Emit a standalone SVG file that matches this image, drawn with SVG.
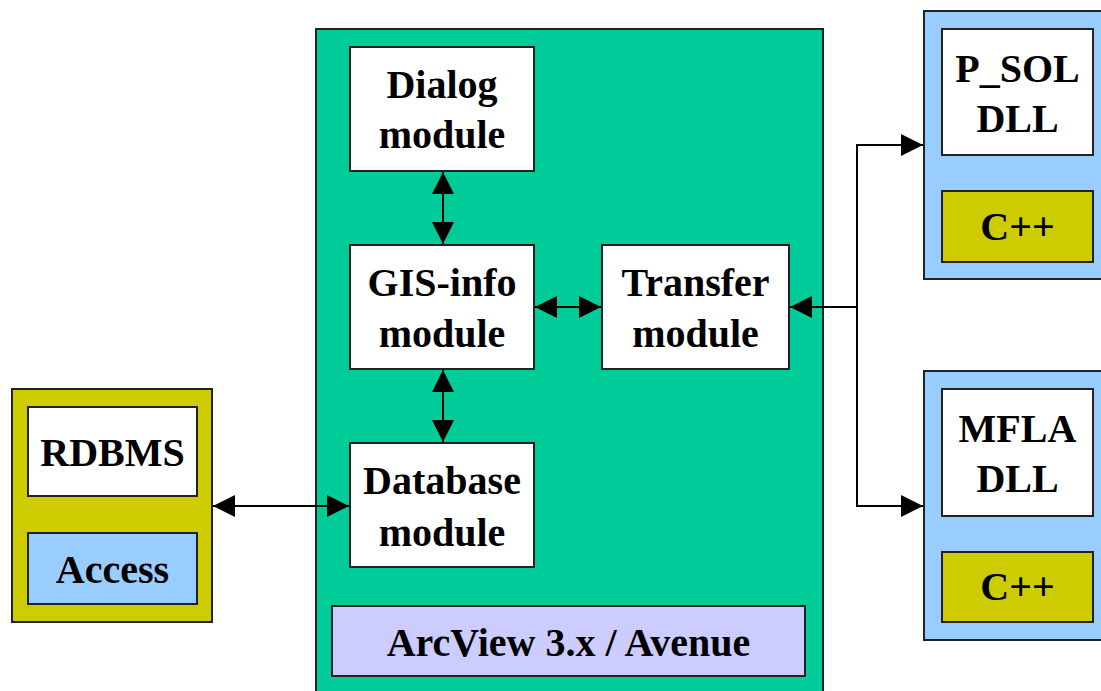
<svg xmlns="http://www.w3.org/2000/svg" width="1101" height="691" viewBox="0 0 1101 691">
<style>
.b{stroke:#222;stroke-width:2}
.w{fill:#fff}
.g{fill:#00CC99}
.y{fill:#CCCC00}
.lb{fill:#99CCFF}
.lv{fill:#CCCCFF}
text{font-family:"Liberation Serif","Times New Roman",serif;font-weight:bold;font-size:40px;fill:#000;text-anchor:middle}
.c{fill:none;stroke:#000;stroke-width:2}
</style>
<defs>
<marker id="ah" markerUnits="userSpaceOnUse" markerWidth="22" markerHeight="22" viewBox="0 0 20 20" refX="20" refY="10" orient="auto-start-reverse">
<path d="M0,0 L20,10 L0,20 Z" fill="#000"/>
</marker>
</defs>
<rect width="1101" height="691" fill="#fff"/>
<g id="arcview-container">
<rect class="b g" x="316" y="29" width="507" height="680"/>
</g>
<g id="left-container">
<rect class="b y" x="12" y="389" width="200" height="233"/>
</g>
<g id="rdbms"><rect class="b w" x="28" y="407" width="169" height="89"/><text x="112.5" y="466">RDBMS</text></g>
<g id="access"><rect class="b lb" x="28" y="533" width="169" height="71"/><text x="112.5" y="583">Access</text></g>
<g id="psol-container"><rect class="b lb" x="924" y="11" width="190" height="268"/></g>
<g id="psol"><rect class="b w" x="942" y="29" width="151" height="126"/><text x="1017.5" y="82">P_SOL</text><text x="1017.5" y="132">DLL</text></g>
<g id="cpp1"><rect class="b y" x="942" y="191" width="151" height="71"/><text x="1017.5" y="240">C++</text></g>
<g id="mfla-container"><rect class="b lb" x="924" y="371" width="190" height="269"/></g>
<g id="mfla"><rect class="b w" x="942" y="389" width="151" height="127"/><text x="1017.5" y="442">MFLA</text><text x="1017.5" y="492">DLL</text></g>
<g id="cpp2"><rect class="b y" x="942" y="552" width="151" height="70"/><text x="1017.5" y="600">C++</text></g>
<g id="dialog"><rect class="b w" x="350" y="47" width="184" height="124"/><text x="442" y="98">Dialog</text><text x="442" y="148">module</text></g>
<g id="gisinfo"><rect class="b w" x="350" y="245" width="184" height="124"/><text x="442" y="296">GIS-info</text><text x="442" y="347">module</text></g>
<g id="transfer"><rect class="b w" x="602" y="245" width="187" height="124"/><text x="695.5" y="296">Transfer</text><text x="695.5" y="347">module</text></g>
<g id="database"><rect class="b w" x="350" y="443" width="184" height="124"/><text x="442" y="494">Database</text><text x="442" y="546">module</text></g>
<g id="arcview"><rect class="b lv" x="332" y="606" width="473" height="70"/><text x="568.5" y="656">ArcView 3.x / Avenue</text></g>
<g id="connectors">
<line class="c" x1="443" y1="172" x2="443" y2="244" marker-start="url(#ah)" marker-end="url(#ah)"/>
<line class="c" x1="443" y1="370" x2="443" y2="442" marker-start="url(#ah)" marker-end="url(#ah)"/>
<line class="c" x1="535" y1="307" x2="601" y2="307" marker-start="url(#ah)" marker-end="url(#ah)"/>
<line class="c" x1="213" y1="506" x2="349" y2="506" marker-start="url(#ah)" marker-end="url(#ah)"/>
<line class="c" x1="857" y1="307" x2="790" y2="307" marker-end="url(#ah)"/>
<polyline class="c" points="857,307 857,145 923,145" marker-end="url(#ah)"/>
<polyline class="c" points="857,307 857,506 923,506" marker-end="url(#ah)"/>
</g>
</svg>
